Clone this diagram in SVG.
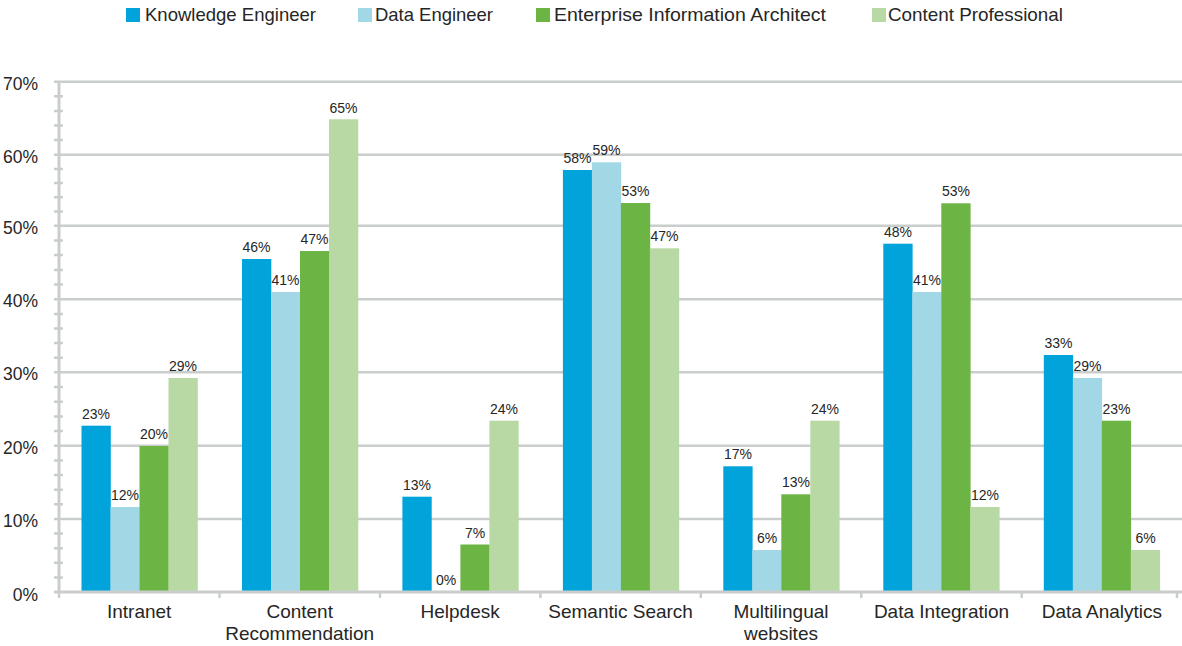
<svg xmlns="http://www.w3.org/2000/svg" width="1182" height="646" viewBox="0 0 1182 646">
<style>
text{font-family:"Liberation Sans",Arial,sans-serif;fill:#262626}
.ke{fill:#00a3da}.de{fill:#a2d8e6}.ea{fill:#6cb544}.cp{fill:#b8d9a3}
.val{font-size:14px;text-anchor:middle}
.cat{font-size:19px;text-anchor:middle}
.ylab{font-size:17.5px;text-anchor:end}
.leg{font-size:18.5px}
.grid{stroke:#c9cecd;stroke-width:2.5;fill:none}
.axis{stroke:#c9cecd;stroke-width:3;fill:none}
.tick{stroke:#c9cecd;stroke-width:2.5;fill:none}
</style>
<rect width="1182" height="646" fill="#ffffff"/>
<g id="legend">
<rect class="ke" x="126" y="8" width="14" height="14"/><text class="leg" x="145" y="21" textLength="171" lengthAdjust="spacingAndGlyphs">Knowledge Engineer</text>
<rect class="de" x="358" y="8" width="14" height="14"/><text class="leg" x="375" y="21" textLength="118" lengthAdjust="spacingAndGlyphs">Data Engineer</text>
<rect class="ea" x="536" y="8" width="14" height="14"/><text class="leg" x="554" y="21" textLength="272" lengthAdjust="spacingAndGlyphs">Enterprise Information Architect</text>
<rect class="cp" x="872" y="8" width="14" height="14"/><text class="leg" x="888" y="21" textLength="175" lengthAdjust="spacingAndGlyphs">Content Professional</text>
</g>
<g id="gridlines">
<path class="grid" d="M54 81.7H1182M54 154.7H1182M54 225.7H1182M54 299.3H1182M54 372.3H1182M54 445.7H1182M54 519H1182"/>
</g>
<g id="y-labels">
<text class="ylab" x="38" y="89.5">70%</text>
<text class="ylab" x="38" y="162.5">60%</text>
<text class="ylab" x="38" y="233.5">50%</text>
<text class="ylab" x="38" y="307.3">40%</text>
<text class="ylab" x="38" y="380.3">30%</text>
<text class="ylab" x="38" y="453.7">20%</text>
<text class="ylab" x="38" y="527">10%</text>
<text class="ylab" x="38" y="600.5">0%</text>
</g>
<g id="cat-intranet">
<rect class="ke" x="81.5" y="425.7" width="29.3" height="166.3"/>
<rect class="de" x="110.5" y="507" width="29.3" height="85"/>
<rect class="ea" x="139.5" y="446" width="29.3" height="146"/>
<rect class="cp" x="168.5" y="378" width="29.3" height="214"/>
<text class="val" x="96" y="418.5">23%</text>
<text class="val" x="125" y="500">12%</text>
<text class="val" x="154" y="439">20%</text>
<text class="val" x="183" y="371">29%</text>
<text class="cat" x="139.2" y="617.5">Intranet</text>
</g>
<g id="cat-content-recommendation">
<rect class="ke" x="242" y="259" width="29.3" height="333"/>
<rect class="de" x="271" y="292" width="29.3" height="300"/>
<rect class="ea" x="300" y="251" width="29.3" height="341"/>
<rect class="cp" x="329" y="119.3" width="29.3" height="472.7"/>
<text class="val" x="256.5" y="252">46%</text>
<text class="val" x="285.5" y="285">41%</text>
<text class="val" x="314.5" y="244">47%</text>
<text class="val" x="343.5" y="112.5">65%</text>
<text class="cat" x="299.7" y="617.5">Content</text>
<text class="cat" x="299.7" y="639.5">Recommendation</text>
</g>
<g id="cat-helpdesk">
<rect class="ke" x="402.4" y="496.7" width="29.3" height="95.3"/>
<rect class="ea" x="460.4" y="544.5" width="29.3" height="47.5"/>
<rect class="cp" x="489.4" y="420.7" width="29.3" height="171.3"/>
<text class="val" x="417" y="489.7">13%</text>
<text class="val" x="446" y="585">0%</text>
<text class="val" x="475" y="537.5">7%</text>
<text class="val" x="504" y="413.7">24%</text>
<text class="cat" x="460.1" y="617.5">Helpdesk</text>
</g>
<g id="cat-semantic-search">
<rect class="ke" x="562.9" y="170" width="29.3" height="422"/>
<rect class="de" x="591.9" y="162.3" width="29.3" height="429.7"/>
<rect class="ea" x="620.9" y="203" width="29.3" height="389"/>
<rect class="cp" x="649.9" y="248.3" width="29.3" height="343.7"/>
<text class="val" x="577.5" y="163">58%</text>
<text class="val" x="606.5" y="155.3">59%</text>
<text class="val" x="635.5" y="196">53%</text>
<text class="val" x="664.5" y="241.3">47%</text>
<text class="cat" x="620.6" y="617.5">Semantic Search</text>
</g>
<g id="cat-multilingual-websites">
<rect class="ke" x="723.3" y="466.3" width="29.3" height="125.7"/>
<rect class="de" x="752.3" y="550" width="29.3" height="42"/>
<rect class="ea" x="781.3" y="494.3" width="29.3" height="97.7"/>
<rect class="cp" x="810.3" y="420.7" width="29.3" height="171.3"/>
<text class="val" x="738" y="459.3">17%</text>
<text class="val" x="767" y="543">6%</text>
<text class="val" x="796" y="487.3">13%</text>
<text class="val" x="825" y="413.7">24%</text>
<text class="cat" x="781" y="617.5">Multilingual</text>
<text class="cat" x="781" y="639.5">websites</text>
</g>
<g id="cat-data-integration">
<rect class="ke" x="883.3" y="243.7" width="29.3" height="348.3"/>
<rect class="de" x="912.3" y="292" width="29.3" height="300"/>
<rect class="ea" x="941.3" y="203.3" width="29.3" height="388.7"/>
<rect class="cp" x="970.3" y="507" width="29.3" height="85"/>
<text class="val" x="898" y="236.7">48%</text>
<text class="val" x="927" y="285">41%</text>
<text class="val" x="956" y="196.3">53%</text>
<text class="val" x="985" y="500">12%</text>
<text class="cat" x="941.5" y="617.5">Data Integration</text>
</g>
<g id="cat-data-analytics">
<rect class="ke" x="1043.8" y="355" width="29.3" height="237"/>
<rect class="de" x="1072.8" y="378" width="29.3" height="214"/>
<rect class="ea" x="1101.8" y="420.7" width="29.3" height="171.3"/>
<rect class="cp" x="1130.8" y="550" width="29.3" height="42"/>
<text class="val" x="1058.5" y="348">33%</text>
<text class="val" x="1087.5" y="371">29%</text>
<text class="val" x="1116.5" y="413.7">23%</text>
<text class="val" x="1145.5" y="543">6%</text>
<text class="cat" x="1101.9" y="617.5">Data Analytics</text>
</g>
<g id="axes">
<path class="axis" d="M59 81.7V592"/>
<path class="tick" d="M54 96.3H63M54 110.9H63M54 125.5H63M54 140.1H63M54 168.9H63M54 183.1H63M54 197.3H63M54 211.5H63M54 240.4H63M54 255.1H63M54 269.9H63M54 284.6H63M54 313.9H63M54 328.5H63M54 343.1H63M54 357.7H63M54 387H63M54 401.7H63M54 416.4H63M54 431H63M54 460.4H63M54 475H63M54 489.7H63M54 504.3H63M54 533.6H63M54 548.2H63M54 562.8H63M54 577.4H63"/>
<path class="axis" d="M54 592H1182"/>
<path class="tick" d="M59 592V598M219.5 592V598M380 592V598M540.4 592V598M700.8 592V598M861.3 592V598M1021.7 592V598M1177 592V598"/>
</g>
</svg>
